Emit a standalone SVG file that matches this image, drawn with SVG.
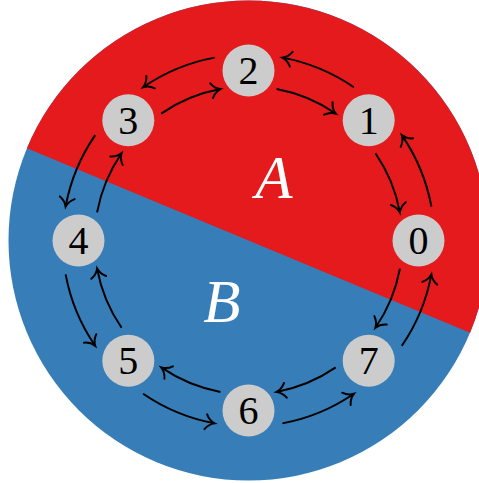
<svg xmlns="http://www.w3.org/2000/svg" width="479" height="483" viewBox="0 0 479 483">
<style>
.node circle{fill:#cccccc;stroke:none}
.node text{font-family:"Liberation Serif","DejaVu Serif",serif;font-size:40px;fill:#000;text-anchor:middle}
.region{font-family:"Liberation Serif","DejaVu Serif",serif;font-style:italic;font-size:61px;fill:#fff;text-anchor:middle}
.arc{fill:none;stroke:#000;stroke-width:2;marker-end:url(#to)}
</style>
<defs>
<marker id="to" markerUnits="userSpaceOnUse" markerWidth="24" markerHeight="24" refX="0" refY="0" orient="auto" overflow="visible" viewBox="-12 -12 24 24">
<path d="M-9,-7.5 C-6.5,-3.2 -2.2,-0.7 0,0 C-2.2,0.7 -6.5,3.2 -9,7.5" fill="none" stroke="#000" stroke-width="2" stroke-linecap="round"/>
</marker>
</defs>
<rect width="479" height="483" fill="#fff"/>
<g id="regions">
<circle cx="248.5" cy="240.5" r="240" fill="#377eb8"/>
<path d="M26.9,148.3 A240,240 0 0 1 470.1,332.7 Z" fill="#e41a1c"/>
<text class="region" x="274" y="198">A</text>
<text class="region" x="222" y="322">B</text>
</g>
<g id="connectors">
<path class="arc" d="M431.38,206.60 A186,186 0 0 0 401.79,135.15"/>
<path class="arc" d="M353.85,87.21 A186,186 0 0 0 282.40,57.62"/>
<path class="arc" d="M214.60,57.62 A186,186 0 0 0 143.15,87.21"/>
<path class="arc" d="M95.21,135.15 A186,186 0 0 0 65.62,206.60"/>
<path class="arc" d="M65.62,274.40 A186,186 0 0 0 95.21,345.85"/>
<path class="arc" d="M143.15,393.79 A186,186 0 0 0 214.60,423.38"/>
<path class="arc" d="M282.40,423.38 A186,186 0 0 0 353.85,393.79"/>
<path class="arc" d="M401.79,345.85 A186,186 0 0 0 431.38,274.40"/>
<path class="arc" d="M375.42,153.27 A154,154 0 0 1 399.92,212.44"/>
<path class="arc" d="M276.56,89.08 A154,154 0 0 1 335.73,113.58"/>
<path class="arc" d="M161.27,113.58 A154,154 0 0 1 220.44,89.08"/>
<path class="arc" d="M97.08,212.44 A154,154 0 0 1 121.58,153.27"/>
<path class="arc" d="M121.58,327.73 A154,154 0 0 1 97.08,268.56"/>
<path class="arc" d="M220.44,391.92 A154,154 0 0 1 161.27,367.42"/>
<path class="arc" d="M335.73,367.42 A154,154 0 0 1 276.56,391.92"/>
<path class="arc" d="M399.92,268.56 A154,154 0 0 1 375.42,327.73"/>
</g>
<g id="n0" class="node"><circle cx="418.5" cy="240.5" r="26"/><text x="418.5" y="254">0</text></g>
<g id="n1" class="node"><circle cx="368.7" cy="120.3" r="26"/><text x="368.7" y="133.8">1</text></g>
<g id="n2" class="node"><circle cx="248.5" cy="70.5" r="26"/><text x="248.5" y="84">2</text></g>
<g id="n3" class="node"><circle cx="128.3" cy="120.3" r="26"/><text x="128.3" y="133.8">3</text></g>
<g id="n4" class="node"><circle cx="78.5" cy="240.5" r="26"/><text x="78.5" y="254">4</text></g>
<g id="n5" class="node"><circle cx="128.3" cy="360.7" r="26"/><text x="128.3" y="374.2">5</text></g>
<g id="n6" class="node"><circle cx="248.5" cy="410.5" r="26"/><text x="248.5" y="424">6</text></g>
<g id="n7" class="node"><circle cx="368.7" cy="360.7" r="26"/><text x="368.7" y="374.2">7</text></g>
</svg>
